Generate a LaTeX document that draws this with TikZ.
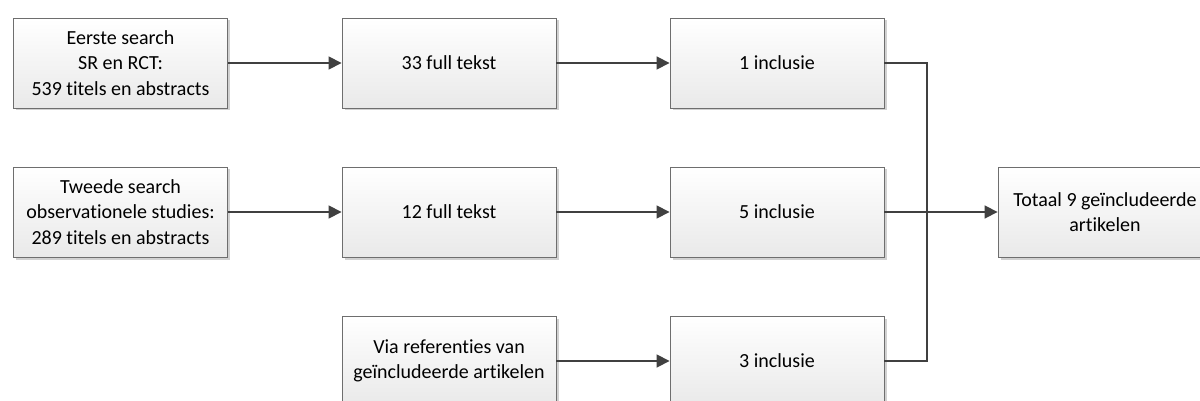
\documentclass[tikz,border=0pt]{standalone}
\usepackage{fontspec}
\setmainfont{Carlito}[Ligatures=NoCommon]
\usetikzlibrary{arrows.meta,shadows}
\definecolor{linec}{HTML}{404040}
\definecolor{borderc}{HTML}{6E6E6E}
\definecolor{fillbot}{HTML}{E9E9E9}
\begin{document}
\begin{tikzpicture}[x=1pt,y=-1pt,
  box/.style={rectangle, draw=borderc, line width=0.9pt, top color=white, bottom color=fillbot,
    minimum width=214pt, minimum height=90pt, inner sep=2pt, align=center,
    font=\fontsize{20}{25.5}\selectfont,
    drop shadow={shadow xshift=2.5pt, shadow yshift=-2.5pt, fill=black, opacity=0.18}},
  conn/.style={draw=linec, line width=1.7pt, -{Triangle[length=13pt,width=13pt]}},
  plain/.style={draw=linec, line width=1.7pt}]
\useasboundingbox (0,0) rectangle (1200,401);
\fill[white] (0,0) rectangle (1200,401);
\node[box] (a1) at (120.5,63) {Eerste search\\SR en RCT:\\539 titels en abstracts};
\node[box] (a2) at (449,63) {33 full tekst};
\node[box] (a3) at (777,63) {1 inclusie};
\node[box] (b1) at (120.5,212) {Tweede search\\observationele studies:\\289 titels en abstracts};
\node[box] (b2) at (449,212) {12 full tekst};
\node[box] (b3) at (777,212) {5 inclusie};
\node[box] (c2) at (449,361) {Via referenties van\\geïncludeerde artikelen};
\node[box] (c3) at (777,361) {3 inclusie};
\node[box, minimum width=214pt] (t) at (1105,212) {Totaal 9 geïncludeerde\\artikelen};
\coordinate (j) at (927,212);
\draw[conn] (a1) -- (a2);
\draw[conn] (a2) -- (a3);
\draw[conn] (b1) -- (b2);
\draw[conn] (b2) -- (b3);
\draw[conn] (c2) -- (c3);
\draw[plain] (a3.east) -| (j);
\draw[plain] (c3.east) -| (j);
\draw[conn] (b3.east) -- (t.west);
\end{tikzpicture}
\end{document}
